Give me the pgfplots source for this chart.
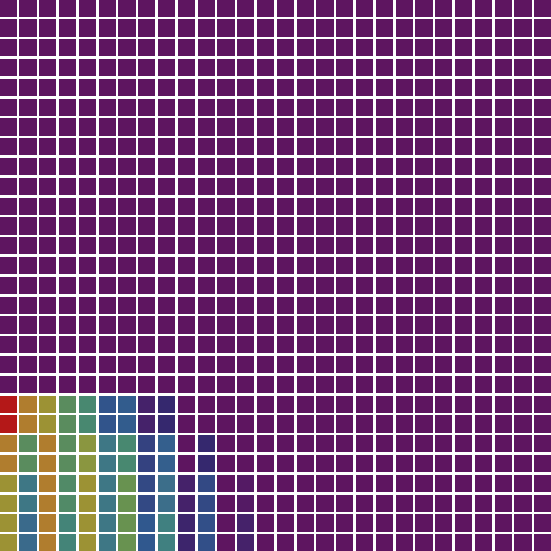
\documentclass[border=0pt]{standalone}
\usepackage{pgfplots}
\pgfplotsset{compat=1.18}
\begin{document}
\begin{tikzpicture}
\begin{axis}[
  scale only axis, width=10cm, height=10cm,
  xmin=-0.42, xmax=27.42, ymin=-0.42, ymax=27.42,
  y dir=reverse, hide axis, clip=false,
  colormap={cellmap}{rgb255(0cm)=(94,21,96) rgb255(1cm)=(69,34,106) rgb255(2cm)=(53,40,110)
    rgb255(3cm)=(52,66,128) rgb255(4cm)=(48,88,142) rgb255(5cm)=(60,110,138)
    rgb255(6cm)=(64,128,128) rgb255(7cm)=(72,136,112) rgb255(8cm)=(90,140,94)
    rgb255(9cm)=(104,146,80) rgb255(10cm)=(138,150,64) rgb255(11cm)=(156,146,52)
    rgb255(12cm)=(176,125,46) rgb255(13cm)=(180,24,24)},
  point meta min=0, point meta max=13,
]
\addplot[scatter, only marks, mark=square*, mark size=4.18pt, point meta=explicit,
  mark options={line width=0pt},
  scatter/use mapped color={draw=mapped color, fill=mapped color}]
  table[row sep=\\, x=x, y=y, meta=c]{
x y c\\
0 0 0\\ 1 0 0\\ 2 0 0\\ 3 0 0\\ 4 0 0\\ 5 0 0\\ 6 0 0\\ 7 0 0\\ 8 0 0\\ 9 0 0\\ 10 0 0\\ 11 0 0\\ 12 0 0\\ 13 0 0\\ 14 0 0\\ 15 0 0\\ 16 0 0\\ 17 0 0\\ 18 0 0\\ 19 0 0\\ 20 0 0\\ 21 0 0\\ 22 0 0\\ 23 0 0\\ 24 0 0\\ 25 0 0\\ 26 0 0\\ 27 0 0\\
0 1 0\\ 1 1 0\\ 2 1 0\\ 3 1 0\\ 4 1 0\\ 5 1 0\\ 6 1 0\\ 7 1 0\\ 8 1 0\\ 9 1 0\\ 10 1 0\\ 11 1 0\\ 12 1 0\\ 13 1 0\\ 14 1 0\\ 15 1 0\\ 16 1 0\\ 17 1 0\\ 18 1 0\\ 19 1 0\\ 20 1 0\\ 21 1 0\\ 22 1 0\\ 23 1 0\\ 24 1 0\\ 25 1 0\\ 26 1 0\\ 27 1 0\\
0 2 0\\ 1 2 0\\ 2 2 0\\ 3 2 0\\ 4 2 0\\ 5 2 0\\ 6 2 0\\ 7 2 0\\ 8 2 0\\ 9 2 0\\ 10 2 0\\ 11 2 0\\ 12 2 0\\ 13 2 0\\ 14 2 0\\ 15 2 0\\ 16 2 0\\ 17 2 0\\ 18 2 0\\ 19 2 0\\ 20 2 0\\ 21 2 0\\ 22 2 0\\ 23 2 0\\ 24 2 0\\ 25 2 0\\ 26 2 0\\ 27 2 0\\
0 3 0\\ 1 3 0\\ 2 3 0\\ 3 3 0\\ 4 3 0\\ 5 3 0\\ 6 3 0\\ 7 3 0\\ 8 3 0\\ 9 3 0\\ 10 3 0\\ 11 3 0\\ 12 3 0\\ 13 3 0\\ 14 3 0\\ 15 3 0\\ 16 3 0\\ 17 3 0\\ 18 3 0\\ 19 3 0\\ 20 3 0\\ 21 3 0\\ 22 3 0\\ 23 3 0\\ 24 3 0\\ 25 3 0\\ 26 3 0\\ 27 3 0\\
0 4 0\\ 1 4 0\\ 2 4 0\\ 3 4 0\\ 4 4 0\\ 5 4 0\\ 6 4 0\\ 7 4 0\\ 8 4 0\\ 9 4 0\\ 10 4 0\\ 11 4 0\\ 12 4 0\\ 13 4 0\\ 14 4 0\\ 15 4 0\\ 16 4 0\\ 17 4 0\\ 18 4 0\\ 19 4 0\\ 20 4 0\\ 21 4 0\\ 22 4 0\\ 23 4 0\\ 24 4 0\\ 25 4 0\\ 26 4 0\\ 27 4 0\\
0 5 0\\ 1 5 0\\ 2 5 0\\ 3 5 0\\ 4 5 0\\ 5 5 0\\ 6 5 0\\ 7 5 0\\ 8 5 0\\ 9 5 0\\ 10 5 0\\ 11 5 0\\ 12 5 0\\ 13 5 0\\ 14 5 0\\ 15 5 0\\ 16 5 0\\ 17 5 0\\ 18 5 0\\ 19 5 0\\ 20 5 0\\ 21 5 0\\ 22 5 0\\ 23 5 0\\ 24 5 0\\ 25 5 0\\ 26 5 0\\ 27 5 0\\
0 6 0\\ 1 6 0\\ 2 6 0\\ 3 6 0\\ 4 6 0\\ 5 6 0\\ 6 6 0\\ 7 6 0\\ 8 6 0\\ 9 6 0\\ 10 6 0\\ 11 6 0\\ 12 6 0\\ 13 6 0\\ 14 6 0\\ 15 6 0\\ 16 6 0\\ 17 6 0\\ 18 6 0\\ 19 6 0\\ 20 6 0\\ 21 6 0\\ 22 6 0\\ 23 6 0\\ 24 6 0\\ 25 6 0\\ 26 6 0\\ 27 6 0\\
0 7 0\\ 1 7 0\\ 2 7 0\\ 3 7 0\\ 4 7 0\\ 5 7 0\\ 6 7 0\\ 7 7 0\\ 8 7 0\\ 9 7 0\\ 10 7 0\\ 11 7 0\\ 12 7 0\\ 13 7 0\\ 14 7 0\\ 15 7 0\\ 16 7 0\\ 17 7 0\\ 18 7 0\\ 19 7 0\\ 20 7 0\\ 21 7 0\\ 22 7 0\\ 23 7 0\\ 24 7 0\\ 25 7 0\\ 26 7 0\\ 27 7 0\\
0 8 0\\ 1 8 0\\ 2 8 0\\ 3 8 0\\ 4 8 0\\ 5 8 0\\ 6 8 0\\ 7 8 0\\ 8 8 0\\ 9 8 0\\ 10 8 0\\ 11 8 0\\ 12 8 0\\ 13 8 0\\ 14 8 0\\ 15 8 0\\ 16 8 0\\ 17 8 0\\ 18 8 0\\ 19 8 0\\ 20 8 0\\ 21 8 0\\ 22 8 0\\ 23 8 0\\ 24 8 0\\ 25 8 0\\ 26 8 0\\ 27 8 0\\
0 9 0\\ 1 9 0\\ 2 9 0\\ 3 9 0\\ 4 9 0\\ 5 9 0\\ 6 9 0\\ 7 9 0\\ 8 9 0\\ 9 9 0\\ 10 9 0\\ 11 9 0\\ 12 9 0\\ 13 9 0\\ 14 9 0\\ 15 9 0\\ 16 9 0\\ 17 9 0\\ 18 9 0\\ 19 9 0\\ 20 9 0\\ 21 9 0\\ 22 9 0\\ 23 9 0\\ 24 9 0\\ 25 9 0\\ 26 9 0\\ 27 9 0\\
0 10 0\\ 1 10 0\\ 2 10 0\\ 3 10 0\\ 4 10 0\\ 5 10 0\\ 6 10 0\\ 7 10 0\\ 8 10 0\\ 9 10 0\\ 10 10 0\\ 11 10 0\\ 12 10 0\\ 13 10 0\\ 14 10 0\\ 15 10 0\\ 16 10 0\\ 17 10 0\\ 18 10 0\\ 19 10 0\\ 20 10 0\\ 21 10 0\\ 22 10 0\\ 23 10 0\\ 24 10 0\\ 25 10 0\\ 26 10 0\\ 27 10 0\\
0 11 0\\ 1 11 0\\ 2 11 0\\ 3 11 0\\ 4 11 0\\ 5 11 0\\ 6 11 0\\ 7 11 0\\ 8 11 0\\ 9 11 0\\ 10 11 0\\ 11 11 0\\ 12 11 0\\ 13 11 0\\ 14 11 0\\ 15 11 0\\ 16 11 0\\ 17 11 0\\ 18 11 0\\ 19 11 0\\ 20 11 0\\ 21 11 0\\ 22 11 0\\ 23 11 0\\ 24 11 0\\ 25 11 0\\ 26 11 0\\ 27 11 0\\
0 12 0\\ 1 12 0\\ 2 12 0\\ 3 12 0\\ 4 12 0\\ 5 12 0\\ 6 12 0\\ 7 12 0\\ 8 12 0\\ 9 12 0\\ 10 12 0\\ 11 12 0\\ 12 12 0\\ 13 12 0\\ 14 12 0\\ 15 12 0\\ 16 12 0\\ 17 12 0\\ 18 12 0\\ 19 12 0\\ 20 12 0\\ 21 12 0\\ 22 12 0\\ 23 12 0\\ 24 12 0\\ 25 12 0\\ 26 12 0\\ 27 12 0\\
0 13 0\\ 1 13 0\\ 2 13 0\\ 3 13 0\\ 4 13 0\\ 5 13 0\\ 6 13 0\\ 7 13 0\\ 8 13 0\\ 9 13 0\\ 10 13 0\\ 11 13 0\\ 12 13 0\\ 13 13 0\\ 14 13 0\\ 15 13 0\\ 16 13 0\\ 17 13 0\\ 18 13 0\\ 19 13 0\\ 20 13 0\\ 21 13 0\\ 22 13 0\\ 23 13 0\\ 24 13 0\\ 25 13 0\\ 26 13 0\\ 27 13 0\\
0 14 0\\ 1 14 0\\ 2 14 0\\ 3 14 0\\ 4 14 0\\ 5 14 0\\ 6 14 0\\ 7 14 0\\ 8 14 0\\ 9 14 0\\ 10 14 0\\ 11 14 0\\ 12 14 0\\ 13 14 0\\ 14 14 0\\ 15 14 0\\ 16 14 0\\ 17 14 0\\ 18 14 0\\ 19 14 0\\ 20 14 0\\ 21 14 0\\ 22 14 0\\ 23 14 0\\ 24 14 0\\ 25 14 0\\ 26 14 0\\ 27 14 0\\
0 15 0\\ 1 15 0\\ 2 15 0\\ 3 15 0\\ 4 15 0\\ 5 15 0\\ 6 15 0\\ 7 15 0\\ 8 15 0\\ 9 15 0\\ 10 15 0\\ 11 15 0\\ 12 15 0\\ 13 15 0\\ 14 15 0\\ 15 15 0\\ 16 15 0\\ 17 15 0\\ 18 15 0\\ 19 15 0\\ 20 15 0\\ 21 15 0\\ 22 15 0\\ 23 15 0\\ 24 15 0\\ 25 15 0\\ 26 15 0\\ 27 15 0\\
0 16 0\\ 1 16 0\\ 2 16 0\\ 3 16 0\\ 4 16 0\\ 5 16 0\\ 6 16 0\\ 7 16 0\\ 8 16 0\\ 9 16 0\\ 10 16 0\\ 11 16 0\\ 12 16 0\\ 13 16 0\\ 14 16 0\\ 15 16 0\\ 16 16 0\\ 17 16 0\\ 18 16 0\\ 19 16 0\\ 20 16 0\\ 21 16 0\\ 22 16 0\\ 23 16 0\\ 24 16 0\\ 25 16 0\\ 26 16 0\\ 27 16 0\\
0 17 0\\ 1 17 0\\ 2 17 0\\ 3 17 0\\ 4 17 0\\ 5 17 0\\ 6 17 0\\ 7 17 0\\ 8 17 0\\ 9 17 0\\ 10 17 0\\ 11 17 0\\ 12 17 0\\ 13 17 0\\ 14 17 0\\ 15 17 0\\ 16 17 0\\ 17 17 0\\ 18 17 0\\ 19 17 0\\ 20 17 0\\ 21 17 0\\ 22 17 0\\ 23 17 0\\ 24 17 0\\ 25 17 0\\ 26 17 0\\ 27 17 0\\
0 18 0\\ 1 18 0\\ 2 18 0\\ 3 18 0\\ 4 18 0\\ 5 18 0\\ 6 18 0\\ 7 18 0\\ 8 18 0\\ 9 18 0\\ 10 18 0\\ 11 18 0\\ 12 18 0\\ 13 18 0\\ 14 18 0\\ 15 18 0\\ 16 18 0\\ 17 18 0\\ 18 18 0\\ 19 18 0\\ 20 18 0\\ 21 18 0\\ 22 18 0\\ 23 18 0\\ 24 18 0\\ 25 18 0\\ 26 18 0\\ 27 18 0\\
0 19 0\\ 1 19 0\\ 2 19 0\\ 3 19 0\\ 4 19 0\\ 5 19 0\\ 6 19 0\\ 7 19 0\\ 8 19 0\\ 9 19 0\\ 10 19 0\\ 11 19 0\\ 12 19 0\\ 13 19 0\\ 14 19 0\\ 15 19 0\\ 16 19 0\\ 17 19 0\\ 18 19 0\\ 19 19 0\\ 20 19 0\\ 21 19 0\\ 22 19 0\\ 23 19 0\\ 24 19 0\\ 25 19 0\\ 26 19 0\\ 27 19 0\\
0 20 13\\ 1 20 12\\ 2 20 11\\ 3 20 8\\ 4 20 7\\ 5 20 3.8\\ 6 20 4.2\\ 7 20 1\\ 8 20 2\\ 9 20 0\\ 10 20 0\\ 11 20 0\\ 12 20 0\\ 13 20 0\\ 14 20 0\\ 15 20 0\\ 16 20 0\\ 17 20 0\\ 18 20 0\\ 19 20 0\\ 20 20 0\\ 21 20 0\\ 22 20 0\\ 23 20 0\\ 24 20 0\\ 25 20 0\\ 26 20 0\\ 27 20 0\\
0 21 13\\ 1 21 12\\ 2 21 11\\ 3 21 8\\ 4 21 7\\ 5 21 3.8\\ 6 21 4.2\\ 7 21 1\\ 8 21 2\\ 9 21 0\\ 10 21 0\\ 11 21 0\\ 12 21 0\\ 13 21 0\\ 14 21 0\\ 15 21 0\\ 16 21 0\\ 17 21 0\\ 18 21 0\\ 19 21 0\\ 20 21 0\\ 21 21 0\\ 22 21 0\\ 23 21 0\\ 24 21 0\\ 25 21 0\\ 26 21 0\\ 27 21 0\\
0 22 12\\ 1 22 8\\ 2 22 12\\ 3 22 8\\ 4 22 10\\ 5 22 5.5\\ 6 22 7\\ 7 22 3\\ 8 22 4.3\\ 9 22 0\\ 10 22 2\\ 11 22 0\\ 12 22 0\\ 13 22 0\\ 14 22 0\\ 15 22 0\\ 16 22 0\\ 17 22 0\\ 18 22 0\\ 19 22 0\\ 20 22 0\\ 21 22 0\\ 22 22 0\\ 23 22 0\\ 24 22 0\\ 25 22 0\\ 26 22 0\\ 27 22 0\\
0 23 12\\ 1 23 8\\ 2 23 12\\ 3 23 8\\ 4 23 10\\ 5 23 5.5\\ 6 23 7\\ 7 23 3\\ 8 23 4.3\\ 9 23 0\\ 10 23 2\\ 11 23 0\\ 12 23 0\\ 13 23 0\\ 14 23 0\\ 15 23 0\\ 16 23 0\\ 17 23 0\\ 18 23 0\\ 19 23 0\\ 20 23 0\\ 21 23 0\\ 22 23 0\\ 23 23 0\\ 24 23 0\\ 25 23 0\\ 26 23 0\\ 27 23 0\\
0 24 11\\ 1 24 5.5\\ 2 24 12\\ 3 24 7.5\\ 4 24 11\\ 5 24 5.5\\ 6 24 9\\ 7 24 3.3\\ 8 24 5\\ 9 24 1\\ 10 24 3.3\\ 11 24 0\\ 12 24 0.4\\ 13 24 0\\ 14 24 0\\ 15 24 0\\ 16 24 0\\ 17 24 0\\ 18 24 0\\ 19 24 0\\ 20 24 0\\ 21 24 0\\ 22 24 0\\ 23 24 0\\ 24 24 0\\ 25 24 0\\ 26 24 0\\ 27 24 0\\
0 25 11\\ 1 25 5.5\\ 2 25 12\\ 3 25 7.5\\ 4 25 11\\ 5 25 5.5\\ 6 25 9\\ 7 25 3.3\\ 8 25 5\\ 9 25 1\\ 10 25 3.3\\ 11 25 0\\ 12 25 0.4\\ 13 25 0\\ 14 25 0\\ 15 25 0\\ 16 25 0\\ 17 25 0\\ 18 25 0\\ 19 25 0\\ 20 25 0\\ 21 25 0\\ 22 25 0\\ 23 25 0\\ 24 25 0\\ 25 25 0\\ 26 25 0\\ 27 25 0\\
0 26 11\\ 1 26 4.8\\ 2 26 12\\ 3 26 6.5\\ 4 26 11\\ 5 26 5.5\\ 6 26 9\\ 7 26 4\\ 8 26 6\\ 9 26 1.5\\ 10 26 3.6\\ 11 26 0\\ 12 26 1\\ 13 26 0\\ 14 26 0\\ 15 26 0\\ 16 26 0\\ 17 26 0\\ 18 26 0\\ 19 26 0\\ 20 26 0\\ 21 26 0\\ 22 26 0\\ 23 26 0\\ 24 26 0\\ 25 26 0\\ 26 26 0\\ 27 26 0\\
0 27 11\\ 1 27 4.8\\ 2 27 12\\ 3 27 6.5\\ 4 27 11\\ 5 27 5.5\\ 6 27 9\\ 7 27 4\\ 8 27 6\\ 9 27 1.5\\ 10 27 3.6\\ 11 27 0\\ 12 27 1\\ 13 27 0\\ 14 27 0\\ 15 27 0\\ 16 27 0\\ 17 27 0\\ 18 27 0\\ 19 27 0\\ 20 27 0\\ 21 27 0\\ 22 27 0\\ 23 27 0\\ 24 27 0\\ 25 27 0\\ 26 27 0\\ 27 27 0\\
};
\end{axis}
\end{tikzpicture}
\end{document}
